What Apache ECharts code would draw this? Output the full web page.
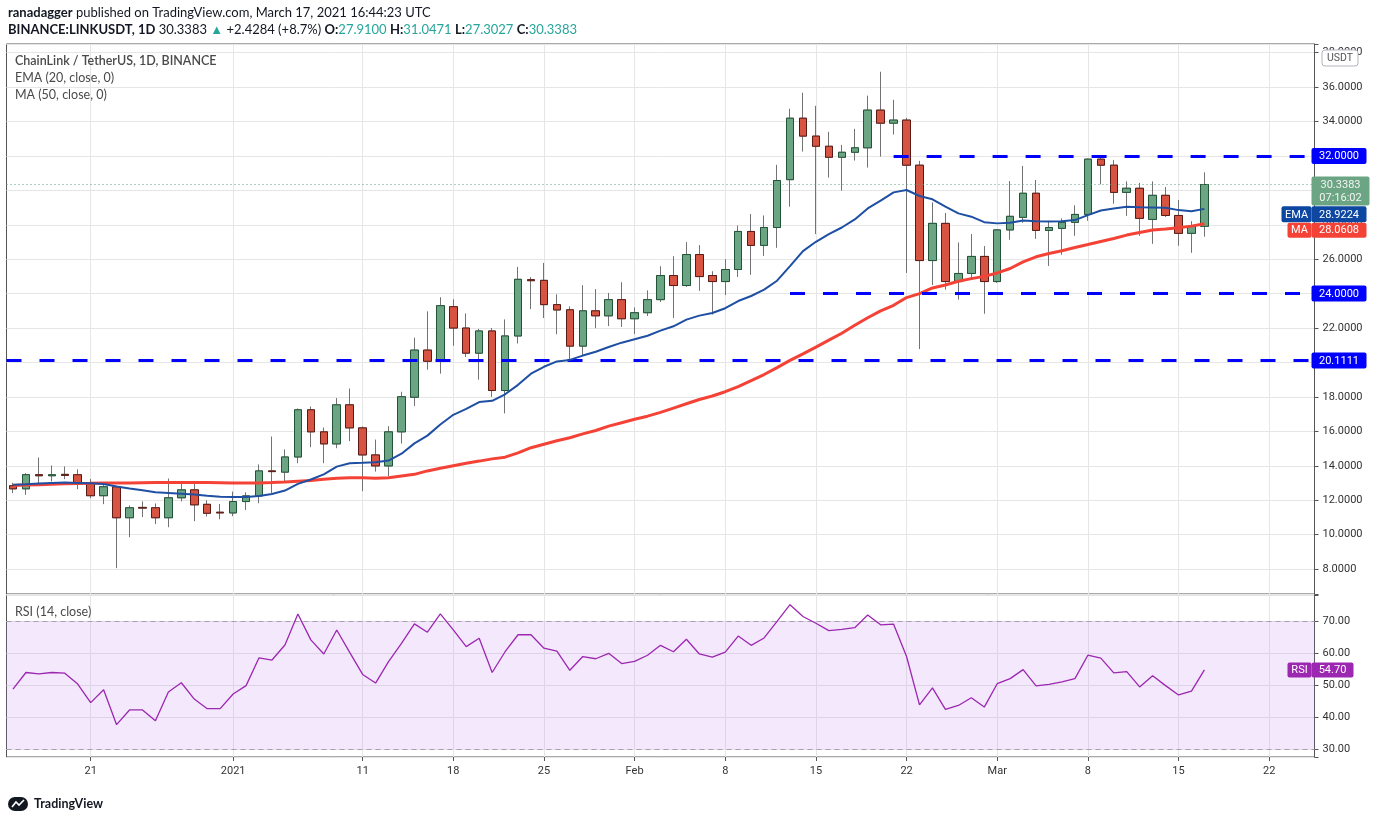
<!DOCTYPE html>
<html><head><meta charset="utf-8">
<script src="https://cdn.jsdelivr.net/npm/echarts@6/dist/echarts.min.js"></script>
<style>html,body{margin:0;padding:0;background:#fff}#c{width:1376px;height:823px}</style>
</head><body><div id="c"></div>
<script>
// ---- time axis ----
const firstDay = [2020, 11, 15];
const dayCount = 101;
const tickDates = ['2020-12-21','2021-01-01','2021-01-11','2021-01-18','2021-01-25','2021-02-01','2021-02-08','2021-02-15','2021-02-22','2021-03-01','2021-03-08','2021-03-15','2021-03-22'];
const tickTexts = ['21','2021','11','18','25','Feb','8','15','22','Mar','8','15','22'];

// ---- OHLC (Dec 15, 2020 .. Mar 17, 2021) ----
const opens = [12.84,12.66,13.48,13.42,13.50,13.48,12.99,12.26,12.78,10.98,
 11.58,11.56,10.98,12.14,12.60,11.76,11.30,11.26,11.92,12.25,
 13.70,13.63,14.51,17.25,15.97,15.27,17.54,16.20,14.63,13.99,
 15.97,17.98,20.72,20.07,23.24,22.00,20.54,21.83,18.37,21.54,
 24.81,24.77,23.36,23.06,20.95,23.00,22.71,23.65,22.54,22.89,
 23.65,25.05,24.47,26.27,25.05,24.70,25.40,27.61,26.80,27.84,
 30.62,34.19,33.15,32.56,31.92,32.21,32.47,34.66,33.90,34.08,
 31.46,25.92,28.08,24.70,25.17,26.16,24.70,27.70,28.43,29.83,
 27.67,27.79,28.14,28.60,31.81,31.46,29.88,30.12,28.31,29.71,
 28.54,27.50,27.91];
const closes = [12.66,13.48,13.42,13.48,13.44,13.01,12.26,12.78,10.98,11.56,
 11.54,10.98,12.14,12.60,11.73,11.24,11.26,11.92,12.25,13.70,
 13.66,14.51,17.25,15.97,15.27,17.54,16.20,14.63,13.99,15.97,
 18.01,20.72,20.07,23.30,22.00,20.54,21.83,18.37,21.54,24.83,
 24.75,23.36,23.05,20.95,23.00,22.71,23.65,22.54,22.89,23.65,
 25.05,24.47,26.27,24.99,24.70,25.40,27.61,26.80,27.84,30.57,
 34.19,33.15,32.56,31.92,32.21,32.47,34.66,33.90,34.08,31.46,
 25.92,28.08,24.70,25.17,26.16,24.70,27.70,28.49,29.83,27.67,
 27.84,28.14,28.60,31.81,31.46,29.88,30.12,28.37,29.71,28.54,
 27.50,27.91,30.3383];
const lows = [12.41,12.31,12.99,13.09,13.22,12.64,12.12,11.77,8.05,9.85,
 11.02,10.61,10.43,11.93,10.78,11.05,10.89,11.07,11.43,11.82,
 12.40,13.08,14.15,15.08,14.15,15.02,15.43,12.52,13.66,13.39,
 15.29,17.47,19.58,19.35,20.97,20.32,19.00,18.00,17.04,21.10,
 23.10,22.58,21.64,20.19,20.42,21.99,22.11,22.06,21.65,22.70,
 23.51,22.58,24.39,24.16,22.78,23.92,24.97,25.09,26.19,26.66,
 29.05,32.25,27.46,30.74,29.98,31.73,31.32,31.96,33.24,25.20,
 20.78,24.50,24.23,23.65,24.87,22.83,24.62,27.13,28.12,27.18,
 25.61,26.25,27.36,28.23,30.35,29.22,28.52,27.36,26.89,28.45,
 26.78,26.37,27.3027];
const highs = [13.01,13.57,14.48,14.02,13.96,13.79,13.24,12.93,12.84,11.69,
 11.93,11.81,13.26,12.95,12.99,12.00,11.78,12.50,12.46,14.08,
 15.70,14.95,17.33,17.44,16.22,17.93,18.49,16.28,15.52,16.30,
 18.30,21.44,22.97,23.79,23.67,22.85,21.95,22.00,22.50,25.55,
 24.96,25.78,23.96,23.26,24.49,24.26,24.04,24.66,23.20,24.19,
 25.59,26.17,26.99,26.82,25.30,26.00,27.96,28.62,28.54,31.48,
 34.74,35.67,34.91,33.40,32.64,33.57,35.50,36.89,35.26,34.21,
 31.71,29.30,28.68,26.97,27.46,26.76,27.75,30.54,31.42,30.60,
 28.23,28.37,29.13,31.85,31.92,31.75,30.52,30.43,30.52,30.19,
 29.44,28.21,31.0471];

// ---- indicators ----
const ema20 = [12.90,12.93,12.97,13.00,13.02,13.00,12.98,12.94,12.80,12.68,
 12.58,12.46,12.42,12.38,12.33,12.26,12.20,12.18,12.19,12.24,
 12.36,12.56,12.95,13.20,13.50,13.95,14.15,14.17,14.20,14.30,
 14.70,15.30,15.75,16.40,16.96,17.30,17.70,17.77,18.15,18.70,
 19.35,19.75,20.06,20.15,20.40,20.62,20.90,21.15,21.35,21.55,
 21.85,22.10,22.49,22.72,22.87,23.15,23.57,23.86,24.23,24.75,
 25.60,26.47,27.01,27.46,27.84,28.31,28.95,29.40,29.88,30.02,
 29.67,29.48,29.05,28.66,28.47,28.15,28.08,28.12,28.25,28.21,
 28.19,28.20,28.27,28.56,28.83,28.95,29.05,29.01,29.00,28.99,
 28.85,28.78,28.9224];
const ma50 = [12.85,12.88,12.90,12.93,12.95,12.97,12.98,13.00,13.00,13.00,
 13.01,13.02,13.02,13.02,13.03,13.02,13.01,13.00,13.00,13.00,
 13.02,13.05,13.10,13.15,13.22,13.28,13.30,13.30,13.28,13.30,
 13.40,13.50,13.70,13.85,14.00,14.15,14.27,14.40,14.50,14.75,
 15.05,15.25,15.45,15.63,15.85,16.05,16.30,16.50,16.70,16.88,
 17.10,17.35,17.60,17.85,18.05,18.30,18.60,18.95,19.30,19.70,
 20.12,20.50,20.89,21.30,21.70,22.16,22.60,23.00,23.32,23.77,
 24.00,24.33,24.50,24.72,24.87,25.00,25.20,25.46,25.84,26.14,
 26.33,26.49,26.68,26.85,27.03,27.20,27.40,27.55,27.69,27.75,
 27.83,27.92,28.0608];
const rsi14 = [48.7,53.9,53.5,53.9,53.7,50.3,44.5,48.5,37.6,42.2,
 42.2,38.8,47.8,50.7,45.6,42.6,42.6,47.2,49.8,58.5,
 57.8,62.5,72.2,64.1,59.7,67.2,60.2,53.3,50.6,57.3,
 63.0,69.1,66.5,72.2,67.2,62.0,64.6,53.9,60.4,65.7,
 65.7,61.5,60.6,54.6,58.9,58.2,59.9,56.7,57.4,59.3,
 62.4,60.4,64.3,59.7,58.7,60.3,65.3,62.4,64.7,69.9,
 75.1,71.4,69.3,67.0,67.4,67.9,71.9,68.8,69.0,58.9,
 43.8,49.1,42.4,43.6,46.0,43.1,50.4,52.0,54.8,49.7,
 50.2,51.0,52.0,59.3,58.4,53.8,54.2,49.4,52.9,49.8,
 46.9,48.1,54.70];

// ---- drawn levels ----
const levels = [32, 24, 20.1111];
const levelFrom = ['2021-02-21', '2021-02-13', null];
const countdown = '07:16:02';

const dates = [];
for (let i = 0; i < dayCount; i++) {
  const d = new Date(Date.UTC(firstDay[0], firstDay[1], firstDay[2] + i));
  dates.push(d.toISOString().slice(0, 10));
}
const lastDate = dates[dates.length - 1];
const wickData = opens.map((o, i) => [o, closes[i], lows[i], highs[i]]);
const bodyData = opens.map((o, i) => [o, closes[i], Math.min(o, closes[i]), Math.max(o, closes[i])]);

const FONT = 'Roboto, sans-serif';
const isTick = (i, v) => tickDates.indexOf(v) >= 0;
const isMul = (v, m) => Math.abs(v / m - Math.round(v / m)) < 1e-6;
const GL = 6.5, GR = 61.5;

const chart = echarts.init(document.getElementById('c'), null, {renderer: 'canvas'});
const option = {
  animation: false,
  backgroundColor: '#ffffff',
  grid: [
    {left: GL, right: GR, top: 44, height: 550, show: true, borderColor: '#555', borderWidth: 1, backgroundColor: 'rgba(0,0,0,0)'},
    {left: GL, right: GR, top: 595, height: 162, show: true, borderColor: '#555', borderWidth: 1, backgroundColor: 'rgba(0,0,0,0)'}
  ],
  xAxis: [
    {type: 'category', gridIndex: 0, data: dates, boundaryGap: true,
     axisLine: {show: false}, axisTick: {show: false}, axisLabel: {show: false},
     splitLine: {show: true, interval: isTick, alignWithLabel: true, lineStyle: {color: '#e6e6e6', width: 1}}},
    {type: 'category', gridIndex: 1, data: dates, boundaryGap: true,
     axisLine: {show: false},
     axisTick: {show: true, interval: isTick, alignWithLabel: true, length: 4, lineStyle: {color: '#555'}},
     axisLabel: {show: true, interval: isTick, formatter: v => { const k = tickDates.indexOf(v); return k >= 0 ? tickTexts[k] : ''; },
       color: '#333', fontSize: 11, fontFamily: FONT, margin: 9},
     splitLine: {show: true, interval: isTick, alignWithLabel: true, lineStyle: {color: '#e6e6e6', width: 1}}}
  ],
  yAxis: [
    {type: 'value', gridIndex: 0, position: 'right', min: 6.55, max: 38.5, splitNumber: 16, minInterval: 2, maxInterval: 2,
     axisLine: {show: true, lineStyle: {color: '#555'}},
     axisTick: {show: true, length: 4, lineStyle: {color: '#555'}},
     axisLabel: {formatter: v => isMul(v, 2) ? v.toFixed(4) : '', color: '#333', fontSize: 11, fontFamily: FONT, margin: 8},
     splitLine: {show: true, lineStyle: {color: '#e6e6e6', width: 1}}},
    {type: 'value', gridIndex: 1, position: 'right', min: 27.5, max: 78.125, splitNumber: 5, minInterval: 10, maxInterval: 10,
     axisLine: {show: true, lineStyle: {color: '#555'}},
     axisTick: {show: true, length: 4, lineStyle: {color: '#555'}},
     axisLabel: {formatter: v => isMul(v, 10) ? v.toFixed(2) : '', color: '#333', fontSize: 11, fontFamily: FONT, margin: 8},
     splitLine: {show: true, lineStyle: {color: '#e3e3e3', width: 1}}}
  ],
  series: [
    {name: 'wick', type: 'candlestick', xAxisIndex: 0, yAxisIndex: 0, data: wickData, barWidth: 8, silent: true, z: 2,
     itemStyle: {color: 'rgba(0,0,0,0)', color0: 'rgba(0,0,0,0)', borderColor: '#737375', borderColor0: '#737375', borderColorDoji: '#737375', borderWidth: 1}},
    {name: 'LINKUSDT', type: 'candlestick', xAxisIndex: 0, yAxisIndex: 0, data: bodyData, barWidth: 8, silent: true, z: 3,
     itemStyle: {color: '#6ba583', color0: '#d75442', borderColor: '#225437', borderColor0: '#5b1a13', borderColorDoji: '#5b1a13', borderWidth: 1},
     markLine: {silent: true, symbol: ['none', 'none'], label: {show: false}, animation: false,
       lineStyle: {color: '#0000ff', width: 3, type: [15, 18]},
       data: [
         [{coord: [levelFrom[0], levels[0]]}, {coord: [lastDate, levels[0]]}],
         [{coord: [levelFrom[1], levels[1]]}, {coord: [lastDate, levels[1]]}],
         {yAxis: levels[2]},
         {yAxis: closes[closes.length - 1], lineStyle: {type: [1, 3], width: 1, color: '#5f9e7a'}}
       ]}},
    {name: 'MA', type: 'line', xAxisIndex: 0, yAxisIndex: 0, data: ma50, showSymbol: false, silent: true, z: 4,
     lineStyle: {color: '#f44336', width: 3}},
    {name: 'EMA', type: 'line', xAxisIndex: 0, yAxisIndex: 0, data: ema20, showSymbol: false, silent: true, z: 5,
     lineStyle: {color: '#1e4fa3', width: 2}},
    {name: 'RSI', type: 'line', xAxisIndex: 1, yAxisIndex: 1, data: rsi14, showSymbol: false, silent: true, z: 5,
     lineStyle: {color: '#9c27b0', width: 1.3},
     markArea: {silent: true, itemStyle: {color: 'rgba(200,150,240,0.22)'}, data: [[{yAxis: 70}, {yAxis: 30}]]},
     markLine: {silent: true, symbol: ['none', 'none'], label: {show: false}, animation: false,
       lineStyle: {color: '#aa9cb2', width: 1, type: [5, 4]}, data: [{yAxis: 70}, {yAxis: 30}]}}
  ]
};
chart.setOption(option);

// ---- annotations placed through the axis scales ----
const axisX = 1376 - GR;
const yP = v => chart.convertToPixel({yAxisIndex: 0}, v);
const yR = v => chart.convertToPixel({yAxisIndex: 1}, v);
function txt(x, y, text, font, fill, align) {
  return {type: 'text', z: 100, style: {x: x, y: y, text: text, font: font, fill: fill,
    align: align || 'left', textAlign: align || 'left', verticalAlign: 'middle', textVerticalAlign: 'middle'}};
}
function box(x, yc, w, h, bg, text) {
  return {type: 'group', z: 100, children: [
    {type: 'rect', z: 100, shape: {x: x, y: yc - h / 2, width: w, height: h, r: 2}, style: {fill: bg}},
    txt(x + w / 2, yc + 0.5, text, '11px ' + FONT, '#ffffff', 'center')
  ]};
}
const lastClose = closes[closes.length - 1];
const lastEma = ema20[ema20.length - 1];
const lastMa = ma50[ma50.length - 1];
const lastRsi = rsi14[rsi14.length - 1];
const yc = yP(lastClose);
const graphics = [
  {type: 'text', z: 100, style: {x: 8, y: 13, verticalAlign: 'middle', textVerticalAlign: 'middle',
    text: '{b|ranadagger}{n| published on TradingView.com, March 17, 2021 16:44:23 UTC}',
    rich: {b: {fontWeight: 'bold', fontSize: 13, fontFamily: 'Lato', color: '#131722', fill: '#131722'},
           n: {fontSize: 13, fontFamily: 'Lato', color: '#131722', fill: '#131722'}}}},
  {type: 'text', z: 100, style: {x: 8, y: 30, verticalAlign: 'middle', textVerticalAlign: 'middle',
    text: '{b|BINANCE:LINKUSDT, 1D}{n| ' + lastClose.toFixed(4) + ' }{g|▲}{n| +2.4284 (+8.7%) }{b|O:}{g|' + opens[opens.length-1].toFixed(4) + '}{n| }{b|H:}{g|' + highs[highs.length-1].toFixed(4) + '}{n| }{b|L:}{g|' + lows[lows.length-1].toFixed(4) + '}{n| }{b|C:}{g|' + lastClose.toFixed(4) + '}',
    rich: {b: {fontWeight: 'bold', fontSize: 13, fontFamily: 'Lato', color: '#131722', fill: '#131722'},
           n: {fontSize: 13, fontFamily: 'Lato', color: '#131722', fill: '#131722'},
           g: {fontSize: 13, fontFamily: 'Lato', color: '#26a69a', fill: '#26a69a'}}}},
  txt(15, 61, 'ChainLink / TetherUS, 1D, BINANCE', '600 12.5px Lato', '#4a4a4a'),
  txt(15, 78, 'EMA (20, close, 0)', '12.5px Lato', '#4a4a4a'),
  txt(15, 95, 'MA (50, close, 0)', '12.5px Lato', '#4a4a4a'),
  txt(15, 612, 'RSI (14, close)', '12.5px Lato', '#4a4a4a'),
  {type: 'rect', z: 100, shape: {x: 1322, y: 50, width: 36, height: 16, r: 3}, style: {fill: '#ffffff', stroke: '#b2b5be', lineWidth: 1}},
  txt(1340, 58.5, 'USDT', '10.5px ' + FONT, '#555', 'center'),
  box(axisX - 3, yP(levels[0]), 55, 16, '#0000ff', levels[0].toFixed(4)),
  box(axisX - 3, yP(levels[1]), 55, 16, '#0000ff', levels[1].toFixed(4)),
  box(axisX - 3, yP(levels[2]), 55, 16, '#0000ff', levels[2].toFixed(4)),
  {type: 'rect', z: 100, shape: {x: axisX - 3, y: yc - 8, width: 58, height: 29, r: 2}, style: {fill: '#6ba583'}},
  txt(axisX - 3 + 29, yc + 0.5, lastClose.toFixed(4), '11px ' + FONT, '#f4f4f4', 'center'),
  txt(axisX - 3 + 29, yc + 13.5, countdown, '11px ' + FONT, '#f4f4f4', 'center'),
  box(axisX - 33, yP(lastEma) + 5.5, 30, 16, '#0d47a1', 'EMA'),
  box(axisX - 3, yP(lastEma) + 5.5, 55, 16, '#0d47a1', lastEma.toFixed(4)),
  box(axisX - 27, yP(lastMa) + 6.5, 24, 15, '#f44336', 'MA'),
  box(axisX - 3, yP(lastMa) + 6.5, 55, 15, '#f44336', lastMa.toFixed(4)),
  box(axisX - 27, yR(lastRsi), 24, 15, '#9c27b0', 'RSI'),
  box(axisX - 3, yR(lastRsi), 42, 15, '#9c27b0', lastRsi.toFixed(2)),
  {type: 'rect', z: 100, shape: {x: 8, y: 797, width: 20, height: 14, r: 7}, style: {fill: '#131722'}},
  {type: 'polyline', z: 101, shape: {points: [[12, 807], [16, 802], [19, 805], [24, 800]]}, style: {stroke: '#ffffff', lineWidth: 1.6, fill: 'none'}},
  txt(34, 804, 'TradingView', 'bold 12.5px Lato', '#131722')
];
chart.setOption({graphic: graphics});
</script>
</body></html>
